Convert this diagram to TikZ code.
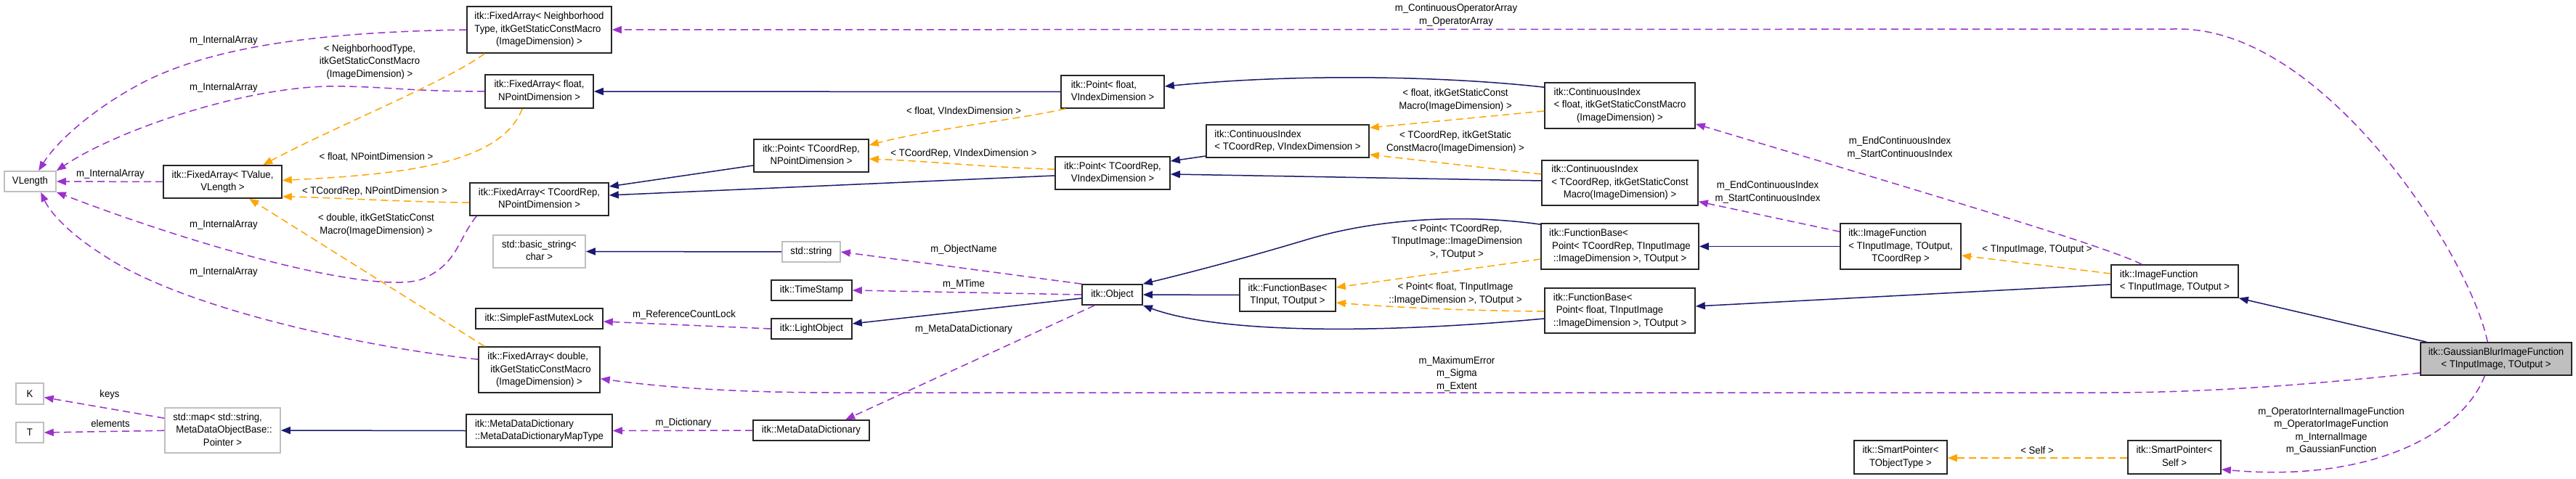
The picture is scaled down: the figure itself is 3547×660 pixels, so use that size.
\documentclass[tikz,border=0pt]{standalone}
\usepackage{fontspec}
\setmainfont{Liberation Sans}[FakeStretch=0.94]
\usetikzlibrary{arrows.meta,calc}
\definecolor{purp}{HTML}{9A32CD}
\definecolor{orng}{HTML}{FFA500}
\definecolor{navy}{HTML}{191970}
\definecolor{gbord}{HTML}{BFBFBF}
\newcommand\lbl{\fontsize{14}{17.5}\selectfont}
\newcommand\LC[2]{\begin{tabular}{@{}l@{}}#1\\\multicolumn{1}{@{}c@{}}{#2}\end{tabular}}
\newcommand\bx[7]{\node[#6, minimum width={(#4)-(#2)}, minimum height={(#5)-(#3)}] (#1) at ({((#2)+(#4))/2},{((#3)+(#5))/2}) {#7};}
\begin{document}
\begin{tikzpicture}[x=1pt,y=-1pt,
  box/.style={draw=black!85, line width=1.6pt, fill=white, inner sep=0pt, font=\lbl},
  gbx/.style={box, draw=gbord},
  gbfill/.style={box, fill=gbord},
  lab/.style={font=\lbl, align=center, inner sep=0pt},
  usage/.style={draw=purp, line width=1.5pt, dash pattern=on 10pt off 6pt, -{Triangle[length=13pt,width=10pt]}},
  tmpl/.style={usage, draw=orng},
  inh/.style={draw=navy, line width=1.5pt, -{Triangle[length=13pt,width=10pt]}}]
\fill[white] (0,0) rectangle (3547,660);
\useasboundingbox (0,0) rectangle (3547,660);

% nodes
\bx{vl}{6}{236}{77}{264}{gbx}{VLength}
\bx{fat}{225}{228}{388}{273}{box}{\LC{itk::FixedArray< TValue,}{VLength >}}
\bx{k}{22}{528}{60}{557}{gbx}{K}
\bx{t}{22}{582}{60}{610}{gbx}{T}
\bx{map}{227}{562}{386}{624}{gbx}{\LC{std::map< std::string,\\\hspace*{4pt}MetaDataObjectBase::}{Pointer >}}
\bx{fan}{643}{9}{842}{73}{box}{\LC{itk::FixedArray< Neighborhood\\Type, itkGetStaticConstMacro}{(ImageDimension) >}}
\bx{faf}{668}{103}{817}{149}{box}{\LC{itk::FixedArray< float,}{NPointDimension >}}
\bx{fac}{647}{252}{838}{297}{box}{\LC{itk::FixedArray< TCoordRep,}{NPointDimension >}}
\bx{bstr}{679}{324}{806}{369}{gbx}{\LC{std::basic\_string<}{char >}}
\bx{sfml}{655}{425}{830}{453}{box}{itk::SimpleFastMutexLock}
\bx{fad}{659}{478}{826}{541}{box}{\LC{itk::FixedArray< double,\\\hspace*{4pt}itkGetStaticConstMacro}{(ImageDimension) >}}
\bx{mddmt}{642}{571}{843}{616}{box}{\LC{itk::MetaDataDictionary}{::MetaDataDictionaryMapType}}
\bx{ptcn}{1038}{192}{1196}{237}{box}{\LC{itk::Point< TCoordRep,}{NPointDimension >}}
\bx{str}{1077}{333}{1157}{361}{gbx}{std::string}
\bx{ts}{1062}{386}{1173}{414}{box}{itk::TimeStamp}
\bx{lo}{1062}{439}{1173}{467}{box}{itk::LightObject}
\bx{mdd}{1037}{579}{1197}{607}{box}{itk::MetaDataDictionary}
\bx{pf}{1461}{104}{1603}{149}{box}{\LC{itk::Point< float,}{VIndexDimension >}}
\bx{ptv}{1453}{216}{1611}{261}{box}{\LC{itk::Point< TCoordRep,}{VIndexDimension >}}
\bx{obj}{1490}{392}{1573}{420}{box}{itk::Object}
\bx{civ}{1661}{172}{1885}{217}{box}{\LC{itk::ContinuousIndex}{< TCoordRep, VIndexDimension >}}
\bx{fb}{1707}{384}{1839}{429}{box}{\LC{itk::FunctionBase<}{TInput, TOutput >}}
\bx{cif}{2127}{114}{2334}{177}{box}{\LC{itk::ContinuousIndex\\< float, itkGetStaticConstMacro}{(ImageDimension) >}}
\bx{ci2}{2123}{221}{2338}{283}{box}{\LC{itk::ContinuousIndex\\< TCoordRep, itkGetStaticConst}{Macro(ImageDimension) >}}
\bx{fbptc}{2122}{308}{2339}{371}{box}{\LC{itk::FunctionBase<\\\hspace*{4pt}Point< TCoordRep, TInputImage}{::ImageDimension >, TOutput >}}
\bx{fbpf}{2127}{397}{2334}{459}{box}{\LC{itk::FunctionBase<\\\hspace*{4pt}Point< float, TInputImage}{::ImageDimension >, TOutput >}}
\bx{if3}{2534}{308}{2700}{371}{box}{\LC{itk::ImageFunction\\< TInputImage, TOutput,}{TCoordRep >}}
\bx{if2}{2907}{365}{3082}{410}{box}{\LC{itk::ImageFunction}{< TInputImage, TOutput >}}
\bx{gb}{3333}{472}{3541}{517}{gbfill}{\LC{itk::GaussianBlurImageFunction}{< TInputImage, TOutput >}}
\bx{spt}{2553}{607}{2681}{653}{box}{\LC{itk::SmartPointer<}{TObjectType >}}
\bx{sps}{2930}{607}{3058}{653}{box}{\LC{itk::SmartPointer<}{Self >}}

% edge labels
\node[lab] (la1) at (308,56) {m\_InternalArray};
\node[lab] (la2) at (308,121) {m\_InternalArray};
\node[lab] (la3) at (152,240) {m\_InternalArray};
\node[lab] (la4) at (308,310) {m\_InternalArray};
\node[lab] (la5) at (308,375) {m\_InternalArray};
\node[lab] (lo1) at (509,85) {< NeighborhoodType,\\itkGetStaticConstMacro\\(ImageDimension) >};
\node[lab] (lo2) at (518,216) {< float, NPointDimension >};
\node[lab] (lo3) at (516,264) {< TCoordRep, NPointDimension >};
\node[lab] (lo4) at (518,310) {< double, itkGetStaticConst\\Macro(ImageDimension) >};
\node[lab] (lkeys) at (151,544) {keys};
\node[lab] (lelem) at (152,583) {elements};
\node[lab] (lrcl) at (942,434) {m\_ReferenceCountLock};
\node[lab] (ldict) at (941,583) {m\_Dictionary};
\node[lab] (lobjn) at (1327,344) {m\_ObjectName};
\node[lab] (lmt) at (1327,392) {m\_MTime};
\node[lab] (lmdd) at (1327,454) {m\_MetaDataDictionary};
\node[lab] (lo5) at (1327,153) {< float, VIndexDimension >};
\node[lab] (lo6) at (1327,212) {< TCoordRep, VIndexDimension >};
\node[lab] (lcoa) at (2005,21) {m\_ContinuousOperatorArray\\m\_OperatorArray};
\node[lab] (lo7) at (2004,138) {< float, itkGetStaticConst\\Macro(ImageDimension) >};
\node[lab] (lo8) at (2004,196) {< TCoordRep, itkGetStatic\\ConstMacro(ImageDimension) >};
\node[lab] (lo9) at (2006,333) {< Point< TCoordRep,\\TInputImage::ImageDimension\\>, TOutput >};
\node[lab] (lo10) at (2004,405) {< Point< float, TInputImage\\::ImageDimension >, TOutput >};
\node[lab] (lmax) at (2006,515) {m\_MaximumError\\m\_Sigma\\m\_Extent};
\node[lab] (lci2) at (2434,265) {m\_EndContinuousIndex\\m\_StartContinuousIndex};
\node[lab] (lcif) at (2616,204) {m\_EndContinuousIndex\\m\_StartContinuousIndex};
\node[lab] (lo11) at (2805,344) {< TInputImage, TOutput >};
\node[lab] (lo12) at (2805,620) {< Self >};
\node[lab] (lgb) at (3210,594) {m\_OperatorInternalImageFunction\\m\_OperatorImageFunction\\m\_InternalImage\\m\_GaussianFunction};

% usage edges (purple)
\draw[usage] (fat.west) -- (vl.east);
\draw[usage] (fan.west) .. controls (450,44) and (300,62) .. (200,112) .. controls (130,148) and (78,195) .. ($(vl.north west)+(48,0)$);
\draw[usage] (faf.west) .. controls (560,126) and (520,118) .. (450,119) .. controls (330,122) and (160,180) .. (vl.north east);
\draw[usage] ($(fac.south west)+(10,0)$) .. controls (630,330) and (630,365) .. (580,385) .. controls (520,405) and (300,350) .. (vl.south east);
\draw[usage] ($(fad.north west)+(0,18)$) .. controls (500,478) and (250,425) .. (140,350) .. controls (100,325) and (70,295) .. ($(vl.south west)+(51,0)$);
\draw[usage] ($(gb.north west)+(93,0)$) .. controls (3400,350) and (3200,40) .. (3000,40) -- (fan.east);
\draw[usage] ($(gb.south west)+(0,-4)$) .. controls (3200,528) and (3050,541) .. (2900,541) -- (1150,541) .. controls (1000,541) and (900,532) .. ($(fad.south east)+(0,-20)$);
\draw[usage] ($(gb.south west)+(89,0)$) .. controls (3390,600) and (3260,665) .. ($(sps.south east)+(0,-7)$);
\draw[usage] ($(if3.north west)+(0,12)$) -- ($(ci2.south east)+(0,-6)$);
\draw[usage] ($(if2.north west)+(43,0)$) .. controls (2900,340) and (2700,280) .. ($(cif.south east)+(0,-7)$);
\draw[usage] (obj.north west) -- (str.east);
\draw[usage] (obj.west) -- (ts.east);
\draw[usage] ($(obj.south west)+(18,0)$) -- ($(mdd.north west)+(128,0)$);
\draw[usage] (lo.west) -- ($(sfml.east)+(0,4)$);
\draw[usage] (mdd.west) -- (mddmt.east);
\draw[usage] ($(map.north west)+(0,15)$) -- ($(k.east)+(0,5)$);
\draw[usage] ($(map.north west)+(0,32)$) -- (t.east);

% template edges (orange)
\draw[tmpl] ($(fan.south west)+(25,0)$) .. controls (620,110) and (460,175) .. ($(fat.north west)+(138,0)$);
\draw[tmpl] ($(faf.south west)+(52,0)$) .. controls (690,225) and (560,240) .. ($(fat.east)+(0,-2)$);
\draw[tmpl] ($(fac.north west)+(0,28)$) .. controls (550,278) and (450,272) .. ($(fat.south east)+(0,-3)$);
\draw[tmpl] ($(fad.north west)+(9,0)$) -- ($(fat.south west)+(119,0)$);
\draw[tmpl] ($(pf.south west)+(7,0)$) .. controls (1400,165) and (1280,178) .. ($(ptcn.east)+(0,-14.5)$);
\draw[tmpl] ($(ptv.north west)+(0,18)$) .. controls (1350,230) and (1280,222) .. ($(ptcn.east)+(0,4.5)$);
\draw[tmpl] ($(cif.west)+(0,7.5)$) -- ($(civ.east)+(0,-18.5)$);
\draw[tmpl] ($(ci2.west)+(0,-12)$) -- ($(civ.east)+(0,18.5)$);
\draw[tmpl] ($(fbptc.west)+(0,17.5)$) -- ($(fb.east)+(0,-10.5)$);
\draw[tmpl] ($(fbpf.west)+(0,1)$) .. controls (2000,428) and (1900,422) .. ($(fb.east)+(0,10.5)$);
\draw[tmpl] ($(if2.west)+(0,-10.5)$) -- ($(if3.east)+(0,12.5)$);
\draw[tmpl] ($(sps.west)+(0,1)$) -- ($(spt.east)+(0,1)$);

% inheritance edges (navy)
\draw[inh] (pf.west) -- (faf.east);
\draw[inh] ($(ptcn.west)+(0,13.5)$) -- ($(fac.east)+(0,-17.5)$);
\draw[inh] ($(ptv.west)+(0,3.5)$) -- ($(fac.east)+(0,-5.5)$);
\draw[inh] ($(cif.north west)+(0,7)$) .. controls (2000,106) and (1800,100) .. ($(pf.east)+(0,-7.5)$);
\draw[inh] ($(civ.west)+(0,20.5)$) -- ($(ptv.east)+(0,-16.5)$);
\draw[inh] ($(ci2.west)+(0,-3)$) -- ($(ptv.east)+(0,1.5)$);
\draw[inh] (str.west) -- (bstr.east);
\draw[inh] ($(obj.west)+(0,5)$) -- ($(lo.east)+(0,-7)$);
\draw[inh] (fb.west) -- (obj.east);
\draw[inh] ($(fbptc.north west)+(0,2)$) .. controls (2020,295) and (1900,300) .. (1800,330) .. controls (1700,360) and (1620,380) .. (obj.north east);
\draw[inh] ($(fbpf.west)+(0,11)$) .. controls (1900,460) and (1680,460) .. (obj.south east);
\draw[inh] (if3.west) -- (fbptc.east);
\draw[inh] ($(if2.west)+(0,4.5)$) -- ($(fbpf.east)+(0,-6)$);
\draw[inh] ($(gb.north west)+(9,0)$) -- (if2.south east);
\draw[inh] (mddmt.west) -- (map.east);
\end{tikzpicture}
\end{document}
